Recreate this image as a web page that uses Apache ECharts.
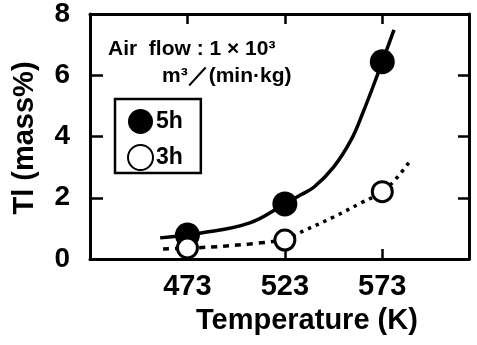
<!DOCTYPE html>
<html>
<head>
<meta charset="utf-8">
<script src="https://cdn.jsdelivr.net/npm/echarts@6/dist/echarts.min.js"></script>
<style>
html,body{margin:0;padding:0;background:#fff;overflow:hidden;}
#chart{width:477px;height:345px;}
</style>
</head>
<body>
<div id="chart"></div>
<script>
// Measured points
const temps = [473, 523, 573];
const tl5h = [0.78, 1.80, 6.44];
const tl3h = [0.36, 0.62, 2.20];
const xTicks = [473, 523, 573];
const yTicks = [0, 2, 4, 6, 8];
// Hand-drawn fit curves
const fit5hT = [459, 480, 505, 523, 531, 538, 548, 557, 563, 570.5, 579];
const fit5hV = [0.69, 0.85, 1.18, 1.80, 2.09, 2.35, 3.00, 3.89, 4.77, 6.01, 7.48];
const fit3hDashT = [460.5, 485, 505, 523];
const fit3hDashV = [0.33, 0.39, 0.49, 0.62];
const fit3hDotT = [523, 532, 548, 562, 573, 580, 587.5];
const fit3hDotV = [0.62, 0.90, 1.37, 1.83, 2.20, 2.62, 3.22];

const seriesNames = ['5h', '3h'];

const zip = (a, b) => a.map((v, i) => [v, b[i]]);
const FONT = '"Liberation Sans", Arial, sans-serif';

const chart = echarts.init(document.getElementById('chart'), null, {renderer: 'canvas'});
const axisLine = {show: true, onZero: false, lineStyle: {color: '#000', width: 3}};
const tickStyle = {color: '#000', width: 2.5};

chart.setOption({
  animation: false,
  backgroundColor: '#fff',
  grid: {left: 90, right: 8, top: 14, bottom: 86, containLabel: false},
  xAxis: [{
    type: 'value', min: 423, max: 617.5, position: 'bottom',
    axisLine: axisLine,
    axisTick: {show: true, inside: true, length: 10, lineStyle: tickStyle, customValues: xTicks},
    axisLabel: {show: true, margin: 13, color: '#000', fontSize: 29, fontWeight: 'bold', fontFamily: FONT, customValues: xTicks},
    splitLine: {show: false}
  }, {
    type: 'value', min: 423, max: 617.5, position: 'top',
    axisLine: axisLine,
    axisTick: {show: true, inside: true, length: 10, lineStyle: tickStyle, customValues: xTicks},
    axisLabel: {show: false},
    splitLine: {show: false}
  }],
  yAxis: [{
    type: 'value', min: 0, max: 8, interval: 2, position: 'left',
    axisLine: axisLine,
    axisTick: {show: true, inside: true, length: 13, lineStyle: tickStyle},
    axisLabel: {show: true, margin: 20, color: '#000', fontSize: 28, fontWeight: 'bold', fontFamily: FONT, customValues: yTicks},
    splitLine: {show: false}
  }, {
    type: 'value', min: 0, max: 8, interval: 2, position: 'right',
    axisLine: axisLine,
    axisTick: {show: true, inside: true, length: 11, lineStyle: tickStyle},
    axisLabel: {show: false},
    splitLine: {show: false}
  }],
  legend: {
    data: seriesNames,
    orient: 'vertical',
    left: 115, top: 99,
    width: 93,
    itemWidth: 25, itemHeight: 25, itemGap: 10,
    padding: [10, 18, 2, 12],
    borderColor: '#000', borderWidth: 2.5, borderRadius: 0,
    textStyle: {color: '#000', fontSize: 23, fontWeight: 'bold', fontFamily: FONT, padding: [0, 0, 0, -2]},
    icon: 'circle',
    selectedMode: false
  },
  graphic: [
    {type: 'text', left: 108, top: 39, style: {text: 'Air  flow : 1 × 10³', fill: '#000', font: 'bold 21px ' + FONT}},
    {type: 'text', left: 162, top: 66, style: {text: 'm³／(min·kg)', fill: '#000', font: 'bold 21px ' + FONT}},
    {type: 'text', left: 196, top: 306, style: {text: 'Temperature (K)', fill: '#000', font: 'bold 29px ' + FONT}},
    {type: 'text', x: 25, y: 138, rotation: Math.PI / 2, style: {text: 'Tl (mass%)', fill: '#000', font: 'bold 29px ' + FONT, align: 'center', verticalAlign: 'middle'}}
  ],
  series: [
    {name: 'fit5h', type: 'line', data: zip(fit5hT, fit5hV), smooth: 0.4, symbol: 'none',
     lineStyle: {color: '#000', width: 3.5}, z: 2, silent: true},
    {name: 'fit3hDash', type: 'line', data: zip(fit3hDashT, fit3hDashV), smooth: 0.4, symbol: 'none',
     lineStyle: {color: '#000', width: 3.5, type: [6, 6]}, z: 2, silent: true},
    {name: 'fit3hDot', type: 'line', data: zip(fit3hDotT, fit3hDotV), smooth: 0.4, symbol: 'none',
     lineStyle: {color: '#000', width: 3.5, type: [3.5, 5]}, z: 2, silent: true},
    {name: '5h', type: 'scatter', data: zip(temps, tl5h), symbol: 'circle', symbolSize: 25,
     itemStyle: {color: '#000', opacity: 1}, z: 5},
    {name: '3h', type: 'scatter', data: zip(temps, tl3h), symbol: 'circle', symbolSize: 20,
     itemStyle: {color: '#fff', borderColor: '#000', borderWidth: 3, opacity: 1}, z: 6}
  ]
});
</script>
</body>
</html>
